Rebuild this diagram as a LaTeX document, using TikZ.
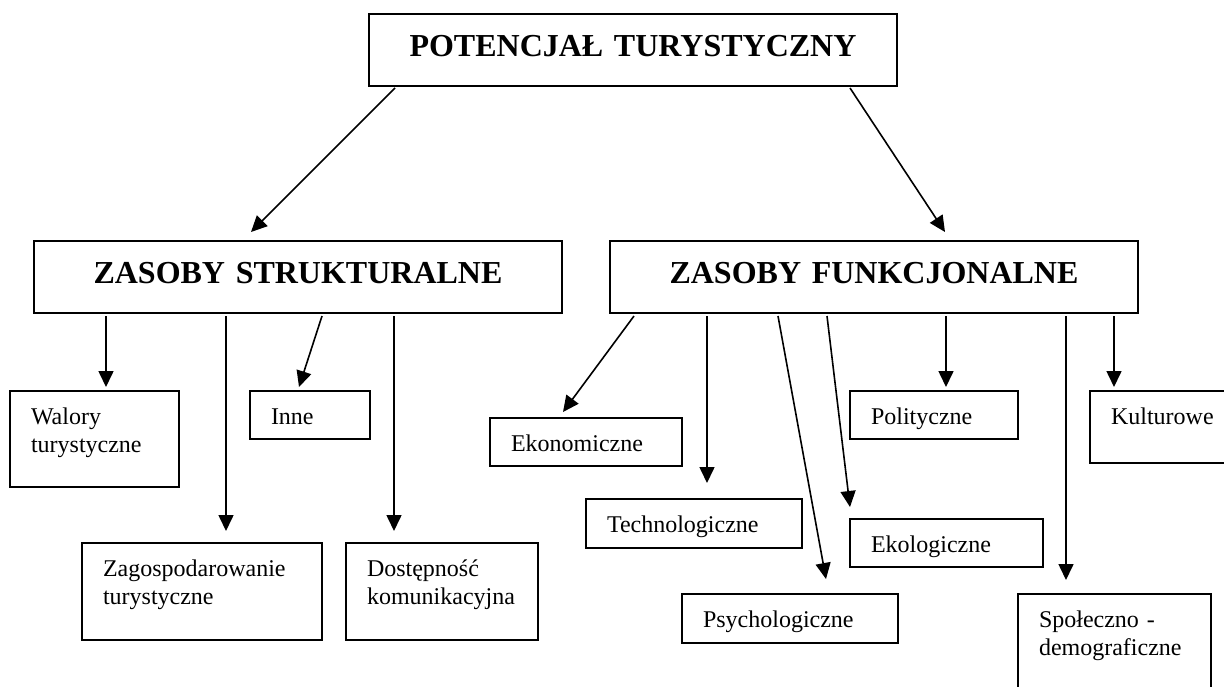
\documentclass[tikz,border=0pt]{standalone}
\usepackage{fontspec}
\setmainfont{Liberation Serif}
\usetikzlibrary{arrows.meta, calc}

\begin{document}
\begin{tikzpicture}[
        x=1pt, y=-1pt,
        every node/.style={inner sep=0pt, outer sep=0pt, anchor=north west},
        headbox/.style={draw, line width=1.8pt, text width=528pt, align=center,
                        font=\fontsize{32}{38}\selectfont\bfseries,
                        text height=42pt, text depth=30pt},
        box/.style={draw, line width=1.8pt, align=left, inner xsep=21pt,
                    font=\fontsize{24}{28}\selectfont, text height=33pt},
        arr/.style={-{Triangle[length=16pt, width=15pt]}, line width=1.6pt}
      ]
        \clip (0,0) rectangle (1224,686);

        \node[headbox] (top) at (369,14)  {POTENCJAŁ TURYSTYCZNY};
        \node[headbox] (zs)  at (34,241)  {ZASOBY STRUKTURALNE};
        \node[headbox] (zf)  at (610,241) {ZASOBY FUNKCJONALNE};

        % zasoby strukturalne
        \node[box, text width=127pt, text depth=63pt] (wal)  at (10,391)  {Walory\\turystyczne};
        \node[box, text width=78pt,  text depth=15pt] (inne) at (250,391) {Inne};
        \node[box, text width=198pt, text depth=64pt] (zag)  at (82,543)  {Zagospodarowanie\\turystyczne};
        \node[box, text width=150pt, text depth=64pt] (dost) at (346,543) {Dostępność\\komunikacyjna};

        % zasoby funkcjonalne
        \node[box, text width=150pt, text depth=15pt] (ekon) at (490,418)  {Ekonomiczne};
        \node[box, text width=174pt, text depth=16pt] (tech) at (586,499)  {Technologiczne};
        \node[box, text width=174pt, text depth=16pt] (psy)  at (682,594)  {Psychologiczne};
        \node[box, text width=126pt, text depth=15pt] (pol)  at (850,391)  {Polityczne};
        \node[box, text width=151pt, text depth=15pt] (ekol) at (850,519)  {Ekologiczne};
        \node[box, text width=108pt, text depth=39pt] (kult) at (1090,391) {Kulturowe};
        \node[box, text width=151pt, text depth=73pt] (spo)  at (1018,594) {Społeczno -\\demograficzne};

        \draw[arr] ($(top.south west)+(26,2)$)  -- ($(zs.north west)+(217,-9)$);
        \draw[arr] ($(top.south west)+(481,2)$) -- ($(zf.north west)+(335,-9)$);

        \draw[arr] ($(zs.south west)+(72,3)$)  -- ($(wal.north west)+(96,-4)$);
        \draw[arr] ($(zs.south west)+(192,3)$) -- ($(zag.north west)+(144,-12)$);
        \draw[arr] ($(zs.south west)+(288,3)$) -- ($(inne.north west)+(49,-4)$);
        \draw[arr] ($(zs.south west)+(360,3)$) -- ($(dost.north west)+(48,-12)$);

        \draw[arr] ($(zf.south west)+(24,3)$)  -- ($(ekon.north west)+(73,-6)$);
        \draw[arr] ($(zf.south west)+(97,3)$)  -- ($(tech.north west)+(121,-16)$);
        \draw[arr] ($(zf.south west)+(168,3)$) -- ($(psy.north west)+(144,-15)$);
        \draw[arr] ($(zf.south west)+(217,3)$) -- ($(ekol.north west)+(0,-12)$);
        \draw[arr] ($(zf.south west)+(336,3)$) -- ($(pol.north west)+(96,-4)$);
        \draw[arr] ($(zf.south west)+(456,3)$) -- ($(spo.north west)+(48,-14)$);
        \draw[arr] ($(zf.south west)+(504,3)$) -- ($(kult.north west)+(24,-4)$);
      \end{tikzpicture}
\end{document}
